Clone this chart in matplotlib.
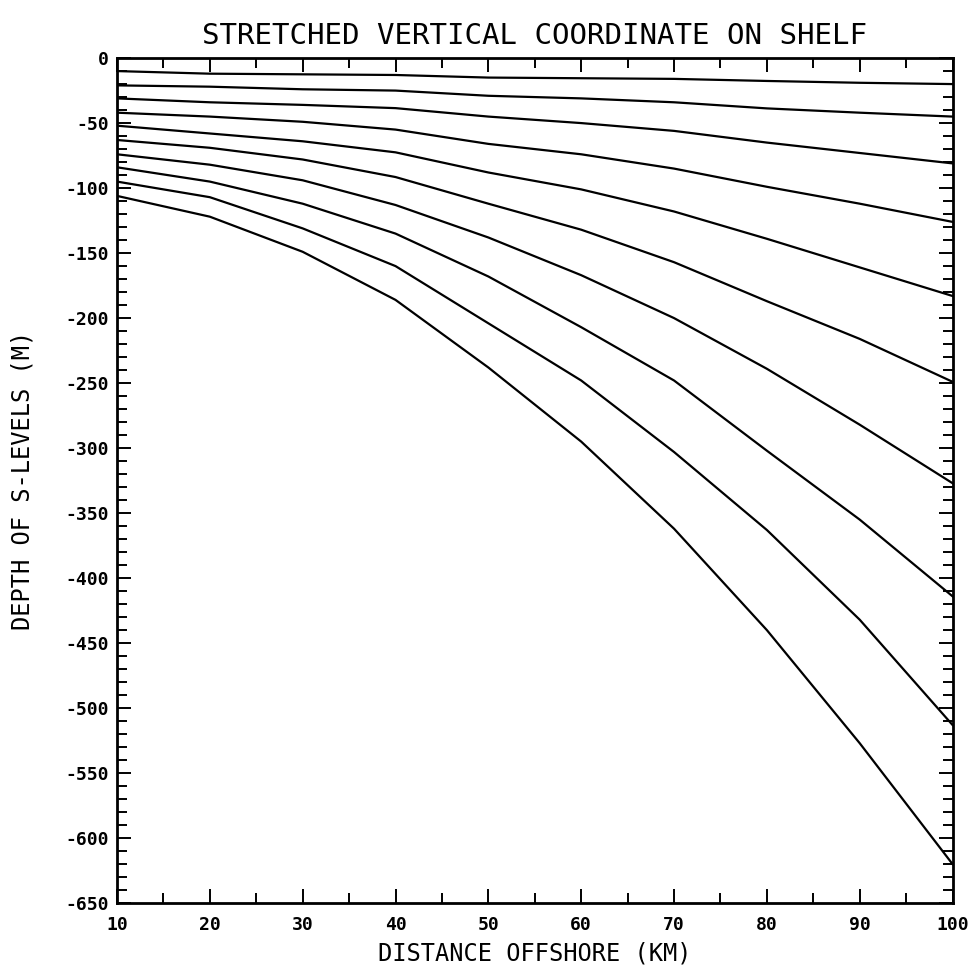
import numpy as np
import matplotlib
matplotlib.use('Agg')
import matplotlib.pyplot as plt
from matplotlib.ticker import MultipleLocator

# distance offshore (km) where depths were read
distance_km = [10, 20, 30, 40, 50, 60, 70, 80, 90, 100]

# depth of each s-level (m), top level first
level_1 = [-10, -12, -12.5, -13, -15, -15.5, -16, -17.6, -19, -20]
level_2 = [-21, -22, -24, -25, -29, -31, -34, -38.7, -42, -45]
level_3 = [-31, -34, -36, -38.5, -45, -50, -56, -65, -73, -81]
level_4 = [-42, -45, -49, -55, -66, -74, -85, -99, -112, -126]
level_5 = [-52, -58, -64, -72.5, -88, -101, -118, -139, -161, -183]
level_6 = [-63, -69, -78, -91.5, -112, -132, -157, -187, -216, -249]
level_7 = [-74, -82, -94, -113, -138, -167, -200, -239, -282, -327]
level_8 = [-84, -95, -112, -135, -168, -207, -248, -302, -355, -414]
level_9 = [-95, -107, -131, -160, -204, -248, -303, -363, -432, -513]
level_10 = [-106, -122, -149, -186, -238, -295, -362, -440, -527, -620]

levels = [level_1, level_2, level_3, level_4, level_5,
          level_6, level_7, level_8, level_9, level_10]

plt.rcParams['font.family'] = ['DejaVu Sans Mono', 'DejaVu Sans']
plt.rcParams['axes.unicode_minus'] = False

fig = plt.figure(figsize=(9.75, 9.68), dpi=100)
ax = fig.add_axes([0.12, 0.067, 0.857, 0.873])

for lev in levels:
    ax.plot(distance_km, lev, '-', color='black', linewidth=1.6)

ax.set_xlim(10, 100)
ax.set_ylim(-650, 0)
ax.xaxis.set_major_locator(MultipleLocator(10))
ax.xaxis.set_minor_locator(MultipleLocator(5))
ax.yaxis.set_major_locator(MultipleLocator(50))
ax.yaxis.set_minor_locator(MultipleLocator(10))
ax.tick_params(which='both', direction='in', top=True, right=True,
               width=1.4, labelsize=13)
ax.tick_params(axis='x', pad=9)
ax.tick_params(axis='y', pad=6)
ax.tick_params(which='major', length=10)
ax.tick_params(which='minor', length=7)
for lbl in ax.get_xticklabels() + ax.get_yticklabels():
    lbl.set_fontweight('bold')
for s in ax.spines.values():
    s.set_linewidth(2)

ax.set_xlabel('DISTANCE OFFSHORE (KM)', fontsize=17, labelpad=6)
ax.set_ylabel('DEPTH OF S-LEVELS (M)', fontsize=17, labelpad=22)
ax.set_title('STRETCHED VERTICAL COORDINATE ON SHELF', fontsize=21, pad=10)

plt.savefig('out.png', dpi=100)
